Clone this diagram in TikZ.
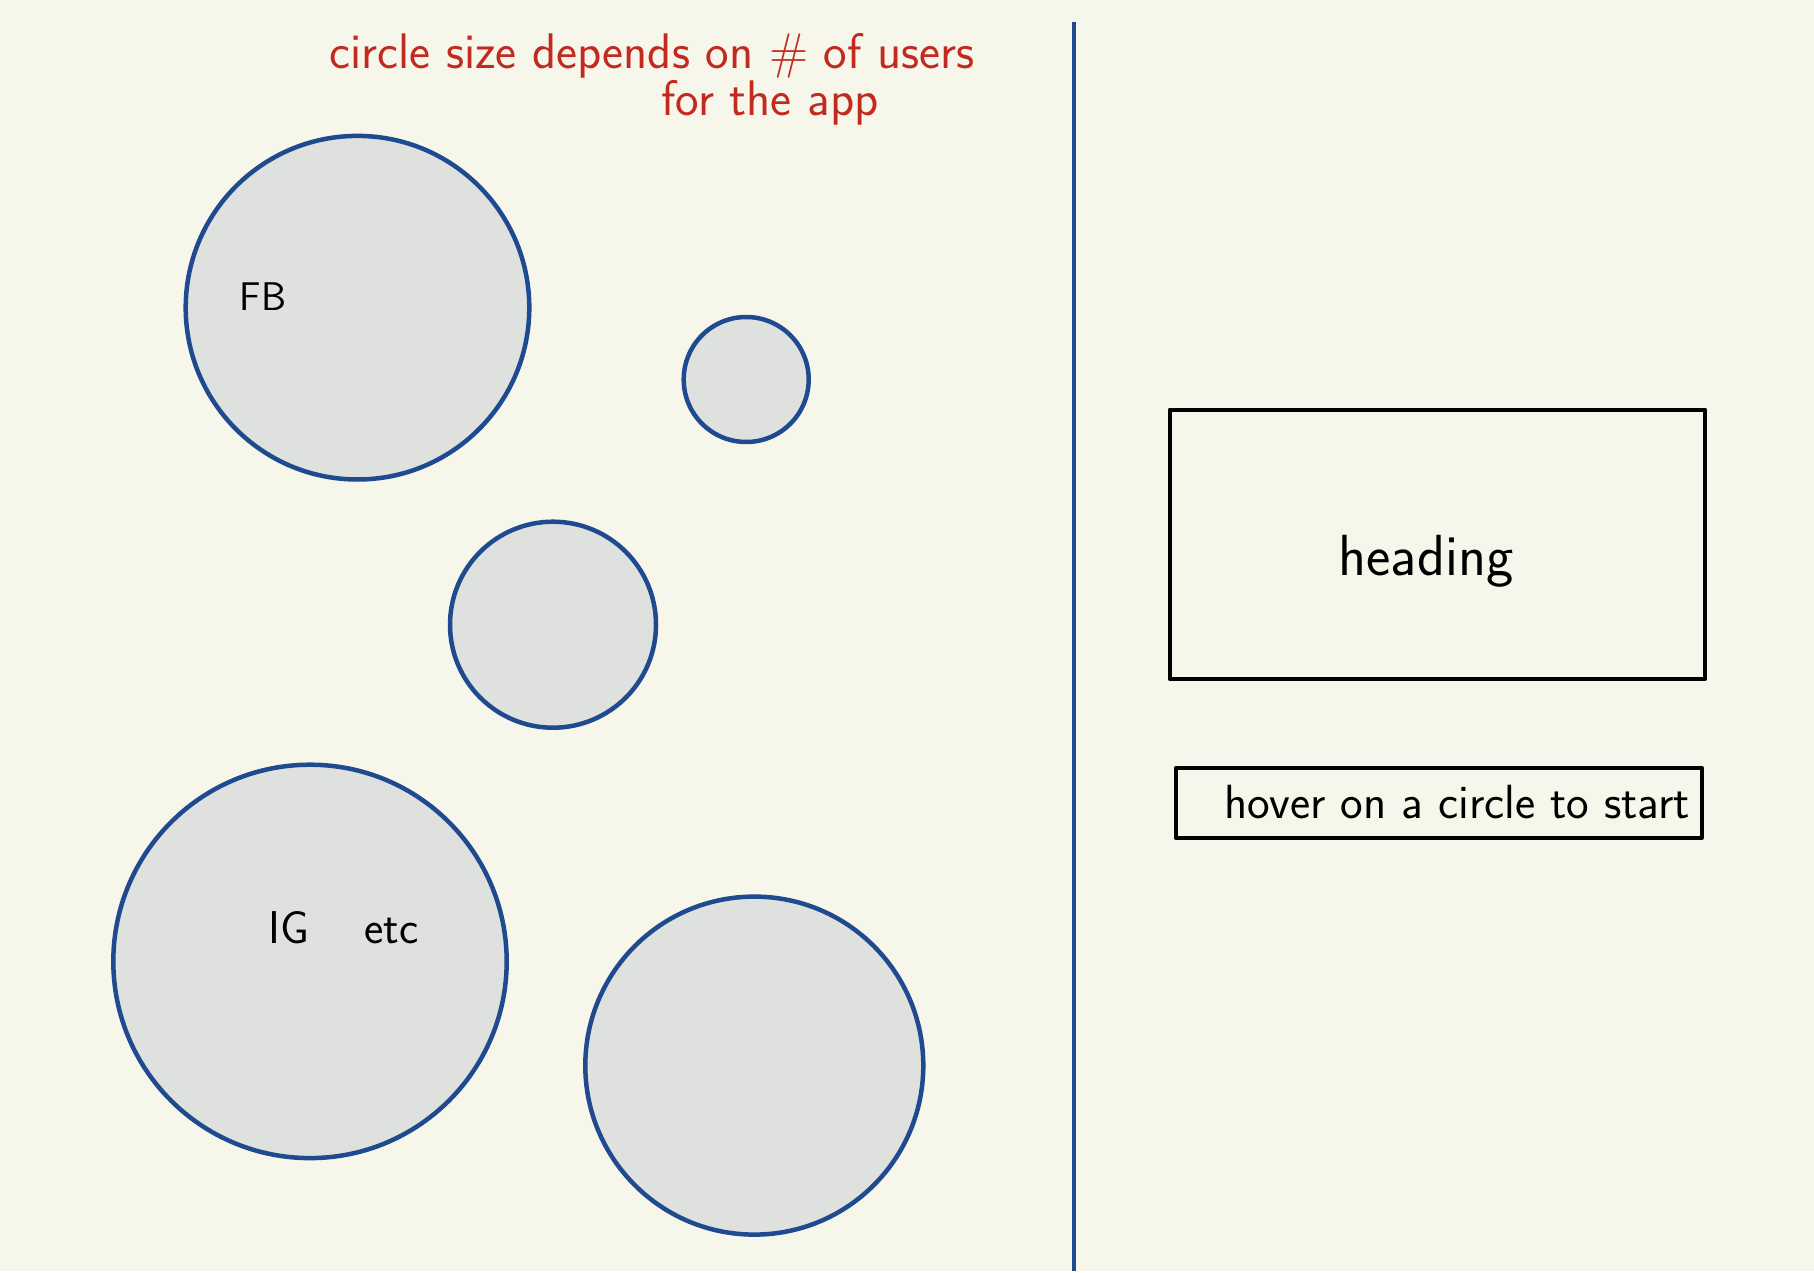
\documentclass[tikz,border=0pt]{standalone}
\usepackage{tikz}
\usepackage{xcolor}
\usetikzlibrary{arrows.meta,calc}

\definecolor{paper}{HTML}{F6F6EB}
\definecolor{bubblefill}{HTML}{DEE1DD}
\definecolor{bubbleline}{HTML}{1F4A8F}
\definecolor{noteRed}{HTML}{C22A1F}

\tikzset{
  bubble/.style={draw=bubbleline,fill=bubblefill,line width=4.5pt},
  panel/.style={draw=black,line width=4pt},
  hand/.style={font=\sffamily,anchor=base,inner sep=0pt}
}

\begin{document}
\begin{tikzpicture}[line cap=round,line join=round,x=1pt,y=-1pt]
                \fill [paper] (0,0) rectangle (1814,1271);
                % divider
                \draw [bubbleline,line width=4pt,line cap=butt] (1074,22)-- (1074,1271);
                % app circles
                \draw [bubble] (357.5,307.7) circle (171.8pt);
                \draw [bubble] (746.2,379.5) circle (62.5pt);
                \draw [bubble] (553,624.7) circle (103pt);
                \draw [bubble] (310,961.4) circle (196.7pt);
                \draw [bubble] (754.3,1065.6) circle (169pt);
                % right side boxes
                \draw [panel] (1169.7,409.6) rectangle (1705.3,679.1);
                \draw [panel] (1175.5,768.2) rectangle (1701.9,837.6);
                % labels
                \node [hand,text=noteRed,font=\sffamily\fontsize{50}{56}\selectfont] (note1) at (652,69) {circle size depends on \# of users};
                \node [hand,text=noteRed,font=\sffamily\fontsize{50}{56}\selectfont] (note2) at (770,116) {for the app};
                \node [hand,font=\sffamily\fontsize{40}{46}\selectfont] (fb) at (263,310) {FB};
                \node [hand,font=\sffamily\fontsize{46}{52}\selectfont] (ig) at (343.5,943) {IG\hspace{55pt}etc};
                \node [hand,font=\sffamily\fontsize{58}{64}\selectfont] (heading) at (1426,575) {heading};
                \node [hand,font=\sffamily\fontsize{48}{54}\selectfont] (hover) at (1457,818) {hover on a circle to start};
\end{tikzpicture}
\end{document}
